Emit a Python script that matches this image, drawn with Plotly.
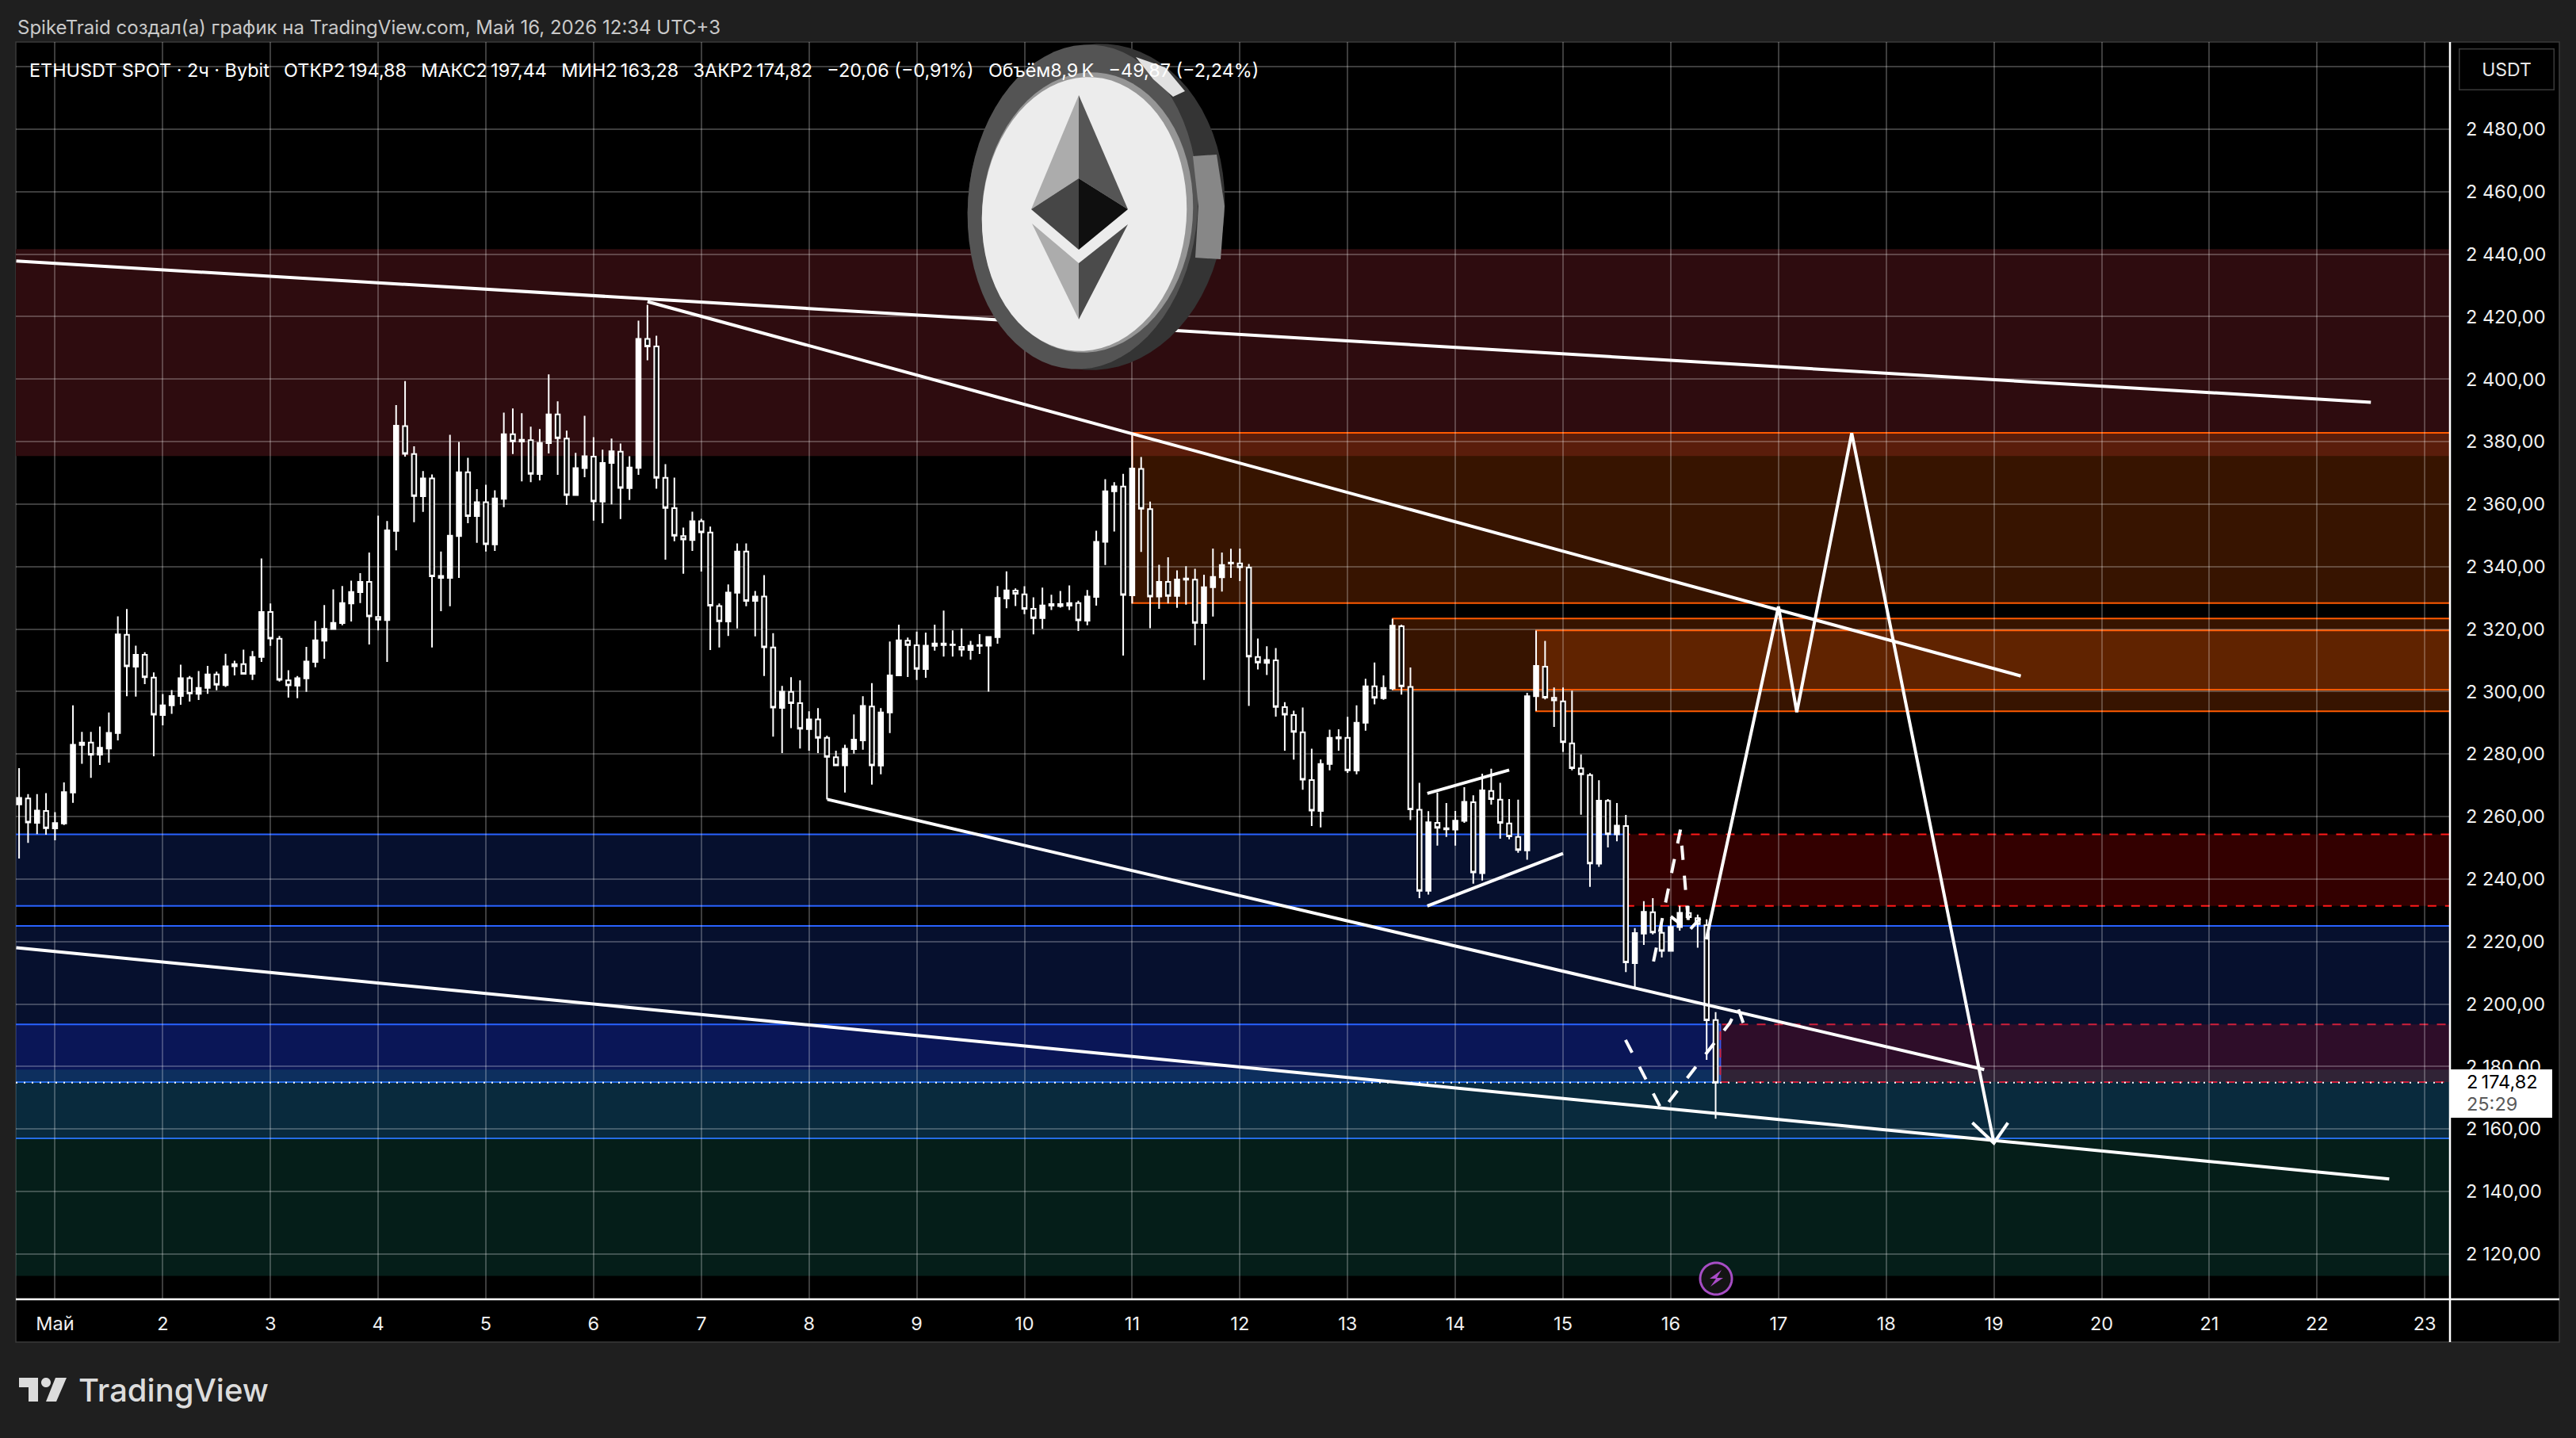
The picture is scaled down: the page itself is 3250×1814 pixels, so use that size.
import math
import pandas as pd
import plotly.graph_objects as go

# 2h candles, ETHUSDT
opens = [2263.9, 2265.8, 2258.0, 2261.8, 2256.2, 2257.8, 2267.7, 2282.9, 2283.7, 2279.8,
         2281.8, 2286.7, 2318.2, 2308.0, 2311.8, 2304.5, 2292.5, 2295.6, 2298.6, 2304.3,
         2299.3, 2301.2, 2305.5, 2302.1, 2308.1, 2308.8, 2305.7, 2311.1, 2325.5, 2316.9,
         2303.6, 2301.9, 2304.2, 2309.5, 2316.3, 2320.0, 2321.9, 2328.2, 2331.8, 2335.1,
         2323.9, 2322.9, 2351.4, 2385.0, 2376.0, 2362.5, 2368.2, 2336.4, 2336.4, 2349.8,
         2370.2, 2356.2, 2360.6, 2347.1, 2361.7, 2382.4, 2380.0, 2380.5, 2369.6, 2379.5,
         2388.7, 2381.0, 2362.9, 2371.5, 2375.2, 2360.8, 2373.2, 2376.8, 2365.1, 2371.6,
         2412.9, 2410.5, 2368.4, 2358.7, 2349.8, 2348.5, 2354.5, 2350.9, 2327.4, 2322.4,
         2331.6, 2344.8, 2329.0, 2330.4, 2314.1, 2294.8, 2299.9, 2296.3, 2288.0, 2291.1,
         2285.2, 2279.0, 2276.4, 2281.6, 2284.4, 2295.2, 2276.3, 2293.3, 2305.2, 2316.3,
         2314.8, 2307.2, 2314.6, 2314.9, 2314.9, 2314.3, 2313.3, 2314.6, 2314.7, 2317.4,
         2329.8, 2332.3, 2331.1, 2326.5, 2323.5, 2327.5, 2327.4, 2327.5, 2328.3, 2322.7,
         2330.3, 2347.9, 2364.1, 2365.6, 2330.8, 2371.3, 2358.4, 2330.4, 2335.1, 2330.6,
         2335.8, 2335.8, 2321.9, 2333.4, 2336.6, 2341.0, 2341.0, 2339.7, 2311.1, 2309.2,
         2310.0, 2295.0, 2292.5, 2287.0, 2271.7, 2261.8, 2276.8, 2285.0, 2285.2, 2274.7,
         2290.0, 2301.7, 2297.9, 2301.0, 2320.9, 2301.5, 2262.2, 2236.2, 2258.0, 2255.9,
         2255.8, 2258.6, 2264.6, 2241.9, 2268.2, 2265.4, 2257.8, 2253.5, 2249.2, 2298.5,
         2308.0, 2298.0, 2296.9, 2283.4, 2275.4, 2273.3, 2244.9, 2265.0, 2254.3, 2257.0,
         2213.1, 2222.5, 2229.4, 2222.8, 2217.0, 2224.6, 2229.1, 2227.5, 2225.2, 2194.88]
highs = [2275.5, 2267.2, 2267.2, 2267.5, 2261.4, 2270.9, 2295.6, 2287.1, 2287.1, 2288.8,
         2293.3, 2324.1, 2326.4, 2314.7, 2312.6, 2306.1, 2299.2, 2300.5, 2308.6, 2305.0,
         2306.6, 2308.2, 2306.4, 2312.1, 2309.9, 2313.4, 2313.0, 2342.6, 2328.2, 2317.8,
         2306.8, 2305.0, 2314.3, 2322.6, 2327.7, 2332.7, 2333.8, 2335.5, 2337.9, 2344.5,
         2356.3, 2354.6, 2391.7, 2399.4, 2378.5, 2370.6, 2369.5, 2344.8, 2382.2, 2379.9,
         2374.8, 2364.8, 2366.2, 2364.4, 2389.3, 2390.6, 2389.1, 2384.8, 2384.0, 2401.5,
         2392.9, 2383.5, 2376.4, 2388.3, 2381.4, 2377.4, 2381.0, 2379.4, 2375.3, 2418.7,
         2423.8, 2413.9, 2372.8, 2368.5, 2352.5, 2357.6, 2355.3, 2352.8, 2328.2, 2334.3,
         2347.4, 2347.4, 2332.2, 2337.3, 2318.7, 2301.8, 2304.6, 2303.6, 2293.7, 2294.7,
         2285.9, 2281.1, 2283.0, 2292.7, 2298.5, 2302.7, 2294.7, 2316.0, 2321.4, 2317.3,
         2319.2, 2318.9, 2321.4, 2325.9, 2319.6, 2320.2, 2316.2, 2318.4, 2317.7, 2333.8,
         2338.5, 2333.0, 2333.7, 2330.2, 2333.3, 2331.0, 2332.2, 2334.0, 2329.1, 2332.5,
         2351.5, 2368.0, 2367.0, 2369.7, 2382.5, 2375.1, 2360.8, 2340.6, 2343.0, 2338.8,
         2340.1, 2339.3, 2337.4, 2345.8, 2344.5, 2345.7, 2345.8, 2340.8, 2317.0, 2314.5,
         2313.9, 2296.6, 2293.9, 2294.9, 2281.7, 2278.3, 2287.8, 2287.9, 2291.9, 2295.6,
         2304.1, 2309.3, 2305.2, 2323.3, 2321.4, 2307.7, 2270.8, 2261.7, 2267.7, 2264.3,
         2261.8, 2269.4, 2266.8, 2273.7, 2275.3, 2270.8, 2265.6, 2265.4, 2299.6, 2319.5,
         2316.2, 2301.3, 2301.3, 2300.3, 2279.9, 2273.9, 2271.6, 2265.6, 2264.3, 2260.5,
         2224.3, 2232.9, 2233.9, 2226.3, 2227.4, 2231.4, 2231.4, 2228.6, 2227.1, 2197.44]
lows = [2246.6, 2251.6, 2254.4, 2254.2, 2252.4, 2257.3, 2264.4, 2276.9, 2272.4, 2276.5,
        2277.3, 2284.4, 2298.5, 2298.4, 2302.4, 2279.3, 2289.2, 2292.9, 2295.8, 2296.8,
        2297.3, 2299.3, 2300.4, 2301.5, 2305.2, 2305.4, 2303.7, 2309.5, 2314.6, 2303.2,
        2298.1, 2297.9, 2299.9, 2307.8, 2310.5, 2319.8, 2321.2, 2322.4, 2328.3, 2315.1,
        2319.6, 2309.5, 2345.2, 2375.2, 2354.2, 2357.5, 2314.1, 2325.7, 2327.3, 2336.4,
        2353.9, 2347.6, 2344.8, 2345.0, 2359.0, 2376.0, 2367.3, 2367.0, 2367.6, 2376.2,
        2369.4, 2359.7, 2362.7, 2368.6, 2354.7, 2353.9, 2359.9, 2355.2, 2361.3, 2369.4,
        2406.0, 2364.9, 2342.2, 2348.1, 2337.7, 2345.0, 2338.4, 2313.3, 2314.1, 2317.8,
        2320.2, 2327.3, 2317.7, 2305.0, 2285.6, 2280.3, 2288.3, 2281.8, 2281.1, 2280.3,
        2265.5, 2276.3, 2267.7, 2280.1, 2281.4, 2270.2, 2273.5, 2286.7, 2305.1, 2304.7,
        2303.7, 2304.4, 2313.1, 2311.2, 2311.2, 2311.2, 2310.2, 2312.0, 2300.0, 2315.3,
        2326.7, 2327.4, 2324.8, 2318.3, 2320.1, 2326.1, 2326.9, 2326.1, 2319.4, 2321.2,
        2327.5, 2340.5, 2351.2, 2311.5, 2328.2, 2344.7, 2320.3, 2326.5, 2328.2, 2326.8,
        2327.8, 2314.8, 2303.7, 2324.0, 2332.0, 2336.4, 2335.4, 2295.4, 2307.1, 2305.3,
        2292.0, 2281.1, 2278.2, 2268.6, 2257.0, 2256.5, 2274.8, 2281.1, 2274.0, 2273.5,
        2287.5, 2295.9, 2297.4, 2300.5, 2299.0, 2258.9, 2233.9, 2235.0, 2250.7, 2253.5,
        2250.7, 2258.0, 2238.5, 2239.5, 2263.8, 2252.9, 2252.7, 2248.4, 2246.2, 2293.8,
        2297.5, 2288.7, 2280.7, 2274.8, 2260.6, 2237.5, 2243.9, 2250.1, 2252.1, 2210.2,
        2205.1, 2218.9, 2222.3, 2214.9, 2217.0, 2223.5, 2226.9, 2218.0, 2182.1, 2163.28]
closes = [2266.0, 2258.1, 2261.9, 2256.3, 2257.9, 2267.8, 2283.0, 2283.7, 2279.8, 2282.0,
          2286.8, 2318.3, 2308.1, 2311.8, 2304.6, 2292.6, 2295.6, 2298.6, 2304.3, 2299.4,
          2301.2, 2305.5, 2302.2, 2308.1, 2308.8, 2305.7, 2311.1, 2325.5, 2317.0, 2303.8,
          2302.0, 2304.3, 2309.6, 2316.4, 2320.1, 2322.0, 2328.3, 2331.9, 2335.1, 2324.1,
          2323.0, 2351.6, 2385.1, 2376.1, 2362.6, 2368.2, 2336.9, 2337.0, 2349.9, 2370.2,
          2356.2, 2360.6, 2347.2, 2361.8, 2382.4, 2380.1, 2380.6, 2369.7, 2379.6, 2388.7,
          2381.1, 2362.9, 2371.5, 2375.3, 2360.9, 2373.2, 2376.9, 2365.2, 2371.7, 2412.9,
          2410.5, 2368.4, 2358.8, 2349.9, 2348.7, 2354.5, 2351.0, 2327.5, 2322.5, 2331.7,
          2344.8, 2329.0, 2330.4, 2314.2, 2294.9, 2300.0, 2296.3, 2288.1, 2291.1, 2285.2,
          2279.1, 2276.4, 2281.7, 2284.6, 2295.4, 2276.4, 2293.3, 2305.2, 2316.4, 2314.9,
          2307.3, 2314.7, 2315.4, 2315.4, 2315.1, 2313.4, 2314.7, 2314.9, 2317.5, 2330.0,
          2332.4, 2331.3, 2326.5, 2323.5, 2327.6, 2328.0, 2328.0, 2328.3, 2322.8, 2330.4,
          2347.9, 2364.1, 2365.7, 2330.9, 2371.4, 2358.5, 2330.4, 2335.1, 2330.6, 2335.9,
          2336.2, 2322.0, 2333.4, 2336.7, 2340.5, 2341.3, 2339.8, 2311.2, 2309.3, 2310.1,
          2295.1, 2292.6, 2287.1, 2271.8, 2261.9, 2276.8, 2285.2, 2285.4, 2274.8, 2290.0,
          2301.7, 2298.0, 2301.2, 2321.1, 2301.7, 2262.3, 2236.2, 2258.2, 2256.4, 2256.3,
          2258.7, 2264.7, 2242.1, 2268.4, 2265.6, 2258.0, 2253.7, 2249.3, 2298.5, 2308.2,
          2298.1, 2297.2, 2283.8, 2275.5, 2273.5, 2245.0, 2265.1, 2254.4, 2257.1, 2213.3,
          2222.7, 2229.5, 2222.9, 2217.0, 2224.7, 2229.2, 2227.8, 2225.6, 2194.8, 2174.82]

times = pd.date_range(end="2026-05-16 10:00", periods=len(opens), freq="2h")

day_ticks = list(range(1, 24))
day_labels = ["Май"] + [str(d) for d in day_ticks[1:]]
price_ticks = list(range(2120, 2501, 20))
# 2 500 sits under the USDT button, no label there
price_labels = [f"{p // 1000} {p % 1000:03d},00" if p < 2500 else "" for p in price_ticks]

# drawn lines, x is day of May, y is price
resistance_days = [0.64, 22.5]
resistance_prices = [2437.8, 2392.6]
fall_days = [6.5, 11.0, 19.25]
fall_prices = [2424.8, 2382.5, 2305.0]
support_days = [8.17, 18.91]
support_prices = [2265.5, 2179.0]
lower_days = [0.64, 22.67]
lower_prices = [2218.0, 2144.0]
forecast_days = [16.33, 17.0, 17.17, 17.68, 19.0]
forecast_prices = [2220.7, 2327.2, 2293.4, 2382.7, 2155.5]
head_days = [18.8, 19.0, 19.13]
head_prices = [2162.0, 2155.5, 2162.0]
flag_top_days = [13.74, 14.5]
flag_top_prices = [2267.4, 2274.9]
flag_low_days = [13.74, 15.0]
flag_low_prices = [2231.4, 2248.2]
dash_a_days = [15.58, 15.92, 16.55, 16.62, 16.69]
dash_a_prices = [2188.5, 2165.9, 2194.0, 2199.1, 2192.3]
dash_b_days = [15.84, 16.09, 16.17]
dash_b_prices = [2213.6, 2255.8, 2223.5]
dash_head_days = [16.0, 16.17, 16.3]
dash_head_prices = [2228.0, 2223.5, 2228.5]

left_day = 0.6365
right_day = 23.234

# page layout in screenshot pixels
W, H = 3250, 1814
L, R, T, B = 20, 3091, 53, 1639


def may(d):
    return pd.Timestamp("2026-04-30") + pd.to_timedelta(d, unit="D")


def px(x):
    return (x - L) / (R - L)


def py(y):
    return 1 - (y - T) / (B - T)


def poly(points):
    return "M " + " L ".join(f"{px(a)},{py(b)}" for a, b in points) + " Z"


def ellipse(cx, cy, rx, ry, deg):
    pts = []
    r = math.radians(deg)
    for i in range(72):
        t = 2 * math.pi * i / 72
        a, b = rx * math.cos(t), ry * math.sin(t)
        pts.append((cx + a * math.cos(r) - b * math.sin(r), cy + a * math.sin(r) + b * math.cos(r)))
    return poly(pts)


def zone(d0, d1, top, bottom, fill, line=None, dash="solid"):
    return dict(type="rect", xref="x", yref="y", x0=may(d0), x1=may(d1), y0=bottom, y1=top,
                fillcolor=fill, line=dict(color=line or "rgba(0,0,0,0)", width=2 if line else 0, dash=dash),
                layer="below")


def furniture(path, fill, line=None, lw=0, layer="above"):
    return dict(type="path", xref="paper", yref="paper", path=path, fillcolor=fill,
                line=dict(color=line or "rgba(0,0,0,0)", width=lw), layer=layer)


BLUE = "#2962ff"
ORANGE = "#ff5a00"
orange_fill = "rgba(230,83,0,0.24)"
blue_fill = "rgba(36,90,255,0.18)"

shapes = [
    furniture(poly([(L, T), (3229, T), (3229, 1693), (L, 1693)]), "#000000", "#3a3a3a", 1.5, "below"),
    zone(0, 30, 2441.6, 2375.4, "rgb(46,12,15)"),
    zone(11.0, 30, 2382.8, 2328.3, orange_fill, ORANGE),
    zone(13.42, 30, 2323.4, 2300.6, orange_fill, ORANGE),
    zone(14.75, 30, 2319.6, 2293.7, orange_fill, ORANGE),
    zone(0, 15.58, 2254.3, 2231.4, blue_fill, BLUE),
    zone(15.58, 30, 2254.3, 2231.4, "rgba(255,0,0,0.2)", "#ff1a1a", "11px,11px"),
    zone(0, 30, 2225.0, 2157.0, blue_fill, BLUE),
    zone(0, 16.46, 2193.5, 2175.0, "rgba(30,50,255,0.2)", BLUE),
    zone(0, 30, 2179.0, 2113.0, "rgba(25,150,125,0.2)"),
    zone(16.46, 30, 2193.5, 2175.0, "rgba(255,0,20,0.16)", "#d0203c", "11px,11px"),
    dict(type="line", xref="x", yref="y", x0=may(left_day), x1=may(right_day), y0=closes[-1], y1=closes[-1],
         line=dict(color="#ffffff", width=2, dash="2px,8px"), layer="between"),
    # axis frame
    furniture(f"M {px(R)},{py(T)} L {px(R)},{py(1693)}", "rgba(0,0,0,0)", "#ffffff", 2.5),
    furniture(f"M {px(L)},{py(B)} L {px(3229)},{py(B)}", "rgba(0,0,0,0)", "#ffffff", 2.5),
    # last price label
    furniture(poly([(3092, 1349), (3220, 1349), (3220, 1410), (3092, 1410)]), "#ffffff"),
    # coin
    furniture(ellipse(1383, 261, 162, 206, 4), "rgb(52,52,52)"),
    furniture(ellipse(1366, 261, 145, 205, 4), "rgb(84,84,84)"),
    furniture(poly([(1505, 197), (1535, 195), (1545, 260), (1540, 327), (1508, 325), (1512, 260)]), "rgb(135,135,135)"),
    furniture(ellipse(1372, 268, 133, 177, 4), "rgb(150,150,150)"),
    furniture(ellipse(1368, 270, 129, 173, 4), "rgb(236,236,236)"),
    furniture(poly([(1433, 72), (1470, 85), (1495, 115), (1480, 122), (1455, 100)]), "rgb(225,225,225)"),
    furniture(poly([(1361, 120), (1301, 264), (1361, 225)]), "rgb(172,172,172)"),
    furniture(poly([(1361, 120), (1423, 264), (1361, 225)]), "rgb(85,85,85)"),
    furniture(poly([(1301, 264), (1361, 225), (1361, 315)]), "rgb(70,70,70)"),
    furniture(poly([(1423, 264), (1361, 225), (1361, 315)]), "rgb(15,15,15)"),
    furniture(poly([(1302, 282), (1361, 332), (1361, 403)]), "rgb(172,172,172)"),
    furniture(poly([(1423, 283), (1361, 332), (1361, 403)]), "rgb(75,75,75)"),
    # TradingView mark
    furniture(poly([(24, 1738), (48, 1738), (48, 1768), (36, 1768), (36, 1750), (24, 1750)]), "#dcdcdc"),
    furniture(ellipse(58, 1744, 6, 6, 0), "#dcdcdc"),
    furniture(poly([(70, 1738), (84, 1738), (71, 1768), (58, 1768)]), "#dcdcdc"),
    # purple bolt
    furniture(ellipse(2165, 1613, 20, 20, 0), "#141414", "#a64dc4", 3),
    furniture(poly([(2172, 1602), (2157, 1613), (2165, 1613), (2158, 1623), (2174, 1612), (2166, 1612)]), "#aa4bc8"),
]

fig = go.Figure()

fig.add_trace(go.Candlestick(
    x=times, open=opens, high=highs, low=lows, close=closes,
    increasing=dict(fillcolor="#ffffff", line=dict(color="#ffffff", width=2)),
    decreasing=dict(fillcolor="#0d0d0d", line=dict(color="#ffffff", width=2)),
    whiskerwidth=0, showlegend=False, hoverinfo="skip",
))


def add_line(days, prices, width=4, dash="solid"):
    fig.add_trace(go.Scatter(
        x=[may(d) for d in days], y=prices, mode="lines", showlegend=False, hoverinfo="skip",
        line=dict(color="#ffffff", width=width, dash=dash),
    ))


add_line(resistance_days, resistance_prices)
add_line(fall_days, fall_prices)
add_line(support_days, support_prices)
add_line(lower_days, lower_prices)
add_line(forecast_days, forecast_prices)
add_line(head_days, head_prices)
add_line(flag_top_days, flag_top_prices)
add_line(flag_low_days, flag_low_prices)
add_line(dash_a_days, dash_a_prices, dash="18px,20px")
add_line(dash_b_days, dash_b_prices, dash="18px,20px")
add_line(dash_head_days, dash_head_prices, dash="18px,14px")

FONT = "Inter"
header = ("ETHUSDT SPOT · 2ч · Bybit\u2002 ОТКР2\u2009194,88\u2002 МАКС2\u2009197,44\u2002 МИН2\u2009163,28\u2002 "
          "ЗАКР2\u2009174,82\u2002 −20,06 (−0,91%)\u2002 Объём8,9\u2009K\u2002 −49,87 (−2,24%)")


def label(x, y, text, size, color, weight=400):
    return dict(xref="paper", yref="paper", x=px(x), y=py(y), xanchor="left", yanchor="middle",
                text=text, showarrow=False, align="left",
                font=dict(family=FONT, size=size, color=color, weight=weight))


annotations = [
    label(20, 35, "SpikeTraid создал(а) график на TradingView.com, Май 16, 2026 12:34 UTC+3", 24, "#c9c9c9"),
    label(35, 89, header, 23.4, "#ffffff"),
    label(97, 1753, "TradingView", 40, "#dcdcdc", 500),
    label(3110, 1364, "2\u2009174,82", 23.5, "#000000"),
    label(3110, 1392, "25:29", 23.5, "#5a5a5a"),
    dict(xref="paper", yref="paper", x=px(3162), y=py(87), xanchor="center", yanchor="middle",
         text="USDT", showarrow=False, width=116, height=48, bgcolor="#000000",
         bordercolor="#3a3a3a", borderwidth=1.5,
         font=dict(family=FONT, size=23, color="#e8e8e8")),
]

fig.update_layout(
    width=W, height=H, autosize=False,
    margin=dict(l=L, r=W - R, t=T, b=H - B, pad=0),
    paper_bgcolor="#1f1f1f", plot_bgcolor="rgba(0,0,0,0)",
    showlegend=False, shapes=shapes, annotations=annotations,
    font=dict(family=FONT, size=24, color="#f0f0f0"),
    xaxis=dict(
        type="date", range=[may(left_day), may(right_day)], rangeslider=dict(visible=False),
        tickmode="array", tickvals=[may(d) for d in day_ticks], ticktext=day_labels,
        showgrid=True, gridcolor="rgba(255,255,255,0.24)", gridwidth=1.5, zeroline=False,
        ticks="", ticklabelstandoff=14, tickfont=dict(family=FONT, size=23.5, color="#f0f0f0"),
    ),
    yaxis=dict(
        side="right", range=[2105.5, 2507.9],
        tickmode="array", tickvals=price_ticks, ticktext=price_labels,
        showgrid=True, gridcolor="rgba(255,255,255,0.24)", gridwidth=2, zeroline=False,
        ticks="", ticklabelstandoff=19, tickfont=dict(family=FONT, size=23.5, color="#f0f0f0"),
    ),
)

fig.write_html("out.html", config={"displayModeBar": False}, post_script="document.body.style.margin='0'")
